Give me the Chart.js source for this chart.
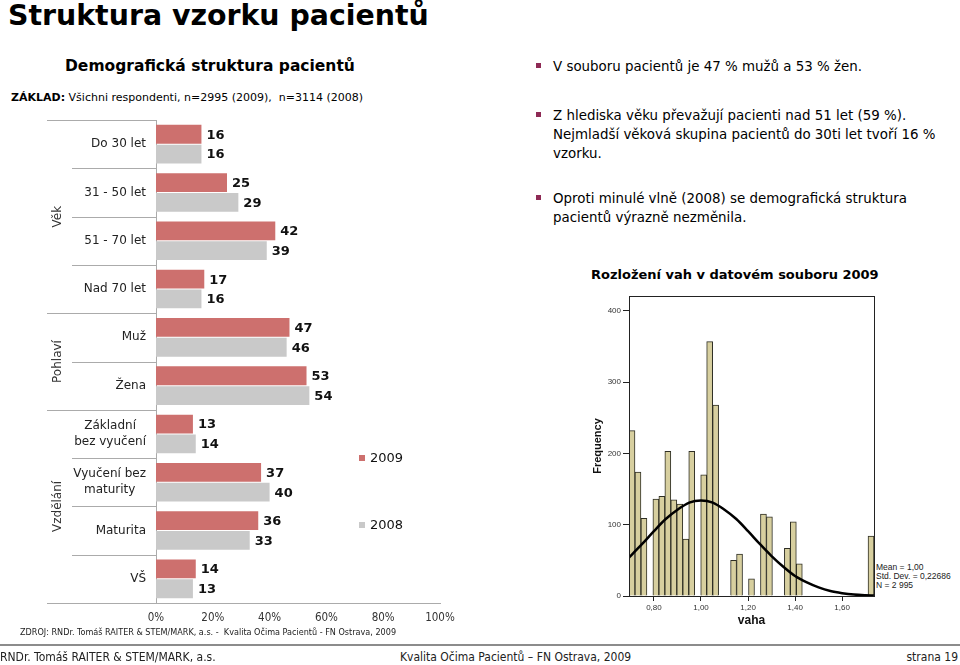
<!DOCTYPE html>
<html>
<head>
<meta charset="utf-8">
<script src="https://cdn.jsdelivr.net/npm/chart.js@4.4.1/dist/chart.umd.min.js"></script>
<style>
  body { margin:0; width:960px; height:665px; background:#fff; position:relative; overflow:hidden; font-family:"DejaVu Sans", sans-serif; color:#000; }
  .abs { position:absolute; white-space:nowrap; }
  #title { left:8px; top:2px; font-size:28.4px; font-weight:bold; line-height:28.4px; }
  #subtitle { left:65px; top:59px; font-size:15.5px; font-weight:bold; line-height:15.5px; }
  #zaklad { left:11px; top:92px; font-size:11px; line-height:11px; }
  #zdroj { left:20px; top:628px; font-size:9px; line-height:9px; font-family:"DejaVu Sans Condensed", "DejaVu Sans", sans-serif; color:#222; }
  .bullet { position:absolute; white-space:nowrap; left:553px; font-size:13.4px; line-height:19px; }
  .bullet::before { content:''; position:absolute; left:-17px; top:6px; width:5px; height:5px; background:#8e2a55; }
  #histTitle { left:591px; top:268px; font-size:13px; font-weight:bold; line-height:13px; }
  #stats { left:876px; top:563px; font-family:"Liberation Sans", Arial, sans-serif; font-size:8.5px; line-height:9px; color:#222; }
  #footLine { position:absolute; left:0; top:644px; width:960px; height:2px; background:#8c8c8c; }
  .foot { top:651px; font-size:12px; line-height:13px; font-family:"DejaVu Sans Condensed", "DejaVu Sans", sans-serif; color:#222; }
  #leftChart { position:absolute; left:0; top:110px; }
  #histChart { position:absolute; left:590px; top:286px; }
</style>
</head>
<body>
<div class="abs" id="title">Struktura vzorku pacientů</div>
<div class="abs" id="subtitle">Demografická struktura pacientů</div>
<div class="abs" id="zaklad"><b>ZÁKLAD:</b> Všichni respondenti, n=2995 (2009),&nbsp; n=3114 (2008)</div>

<div class="bullet" style="top:57px">V souboru pacientů je 47 % mužů a 53 % žen.</div>
<div class="bullet" style="top:106px">Z hlediska věku převažují pacienti nad 51 let (59 %).<br>Nejmladší věková skupina pacientů do 30ti let tvoří 16 %<br>vzorku.</div>
<div class="bullet" style="top:189px">Oproti minulé vlně (2008) se demografická struktura<br>pacientů výrazně nezměnila.</div>

<div class="abs" id="histTitle">Rozložení vah v datovém souboru 2009</div>
<div class="abs" id="stats">Mean = 1,00<br>Std. Dev. = 0,22686<br>N = 2 995</div>

<canvas id="leftChart" width="480" height="530"></canvas>
<canvas id="histChart" width="370" height="346"></canvas>

<div class="abs" id="zdroj">ZDROJ: RNDr. Tomáš RAITER &amp; STEM/MARK, a.s. -&nbsp; Kvalita Očima Pacientů - FN Ostrava, 2009</div>
<div id="footLine"></div>
<div class="abs foot" style="left:0">RNDr. Tomáš RAITER &amp; STEM/MARK, a.s.</div>
<div class="abs foot" style="left:400px">Kvalita Očima Pacientů – FN Ostrava, 2009</div>
<div class="abs foot" style="right:2px">strana 19</div>

<script>
// levy graf - demograficka struktura
const categories = ['Do 30 let', '31 - 50 let', '51 - 70 let', 'Nad 70 let', 'Muž', 'Žena',
    ['Základní', 'bez vyučení'], ['Vyučení bez', 'maturity'], 'Maturita', 'VŠ'];
const groupLabels = ['Věk', 'Pohlaví', 'Vzdělání'];
const groupSizes = [4, 2, 4];
const seriesNames = ['2009', '2008'];
const values2009 = [16, 25, 42, 17, 47, 53, 13, 37, 36, 14];
const values2008 = [16, 29, 39, 16, 46, 54, 14, 40, 33, 13];
const xTicks = [0, 20, 40, 60, 80, 100];

// histogram vah
const binCenters = [0.7067, 0.7321, 0.7575, 0.7829, 0.8083, 0.8337, 0.8591, 0.8845, 0.9099, 0.9353,
    0.9607, 0.9861, 1.0115, 1.0369, 1.0623, 1.0877, 1.1131, 1.1385, 1.1639, 1.1893,
    1.2147, 1.2401, 1.2655, 1.2909, 1.3163, 1.3417, 1.3671, 1.3925, 1.4179, 1.4433,
    1.4687, 1.4941, 1.5195, 1.5449, 1.5703, 1.5957, 1.6211, 1.6465, 1.6719, 1.6973, 1.7227];
const binCounts = [232, 174, 109, 0, 136, 140, 203, 135, 129, 80,
    203, 0, 170, 357, 268, 0, 0, 50, 59, 0,
    24, 0, 115, 111, 0, 0, 67, 104, 45, 0,
    0, 0, 0, 0, 0, 0, 0, 0, 0, 0, 84];
const curveX = [0.694, 0.70, 0.75, 0.80, 0.85, 0.90, 0.95, 1.00, 1.05, 1.10, 1.15, 1.20,
    1.25, 1.30, 1.35, 1.40, 1.45, 1.50, 1.55, 1.60, 1.65, 1.70, 1.735];
const curveY = [54, 56, 73, 91, 108, 121, 131, 134, 131, 121, 108, 91,
    73, 56, 41, 28, 19, 12, 7, 4, 2, 1, 0.6];
const histXTicks = [0.8, 1.0, 1.2, 1.4, 1.6];
const histYTicks = [0, 100, 200, 300, 400];

const RED = '#cd706e';
const GREY = '#c9c9c9';
const LINE = '#ababab';
const FONT = '"DejaVu Sans"';
const COND = '"DejaVu Sans Condensed", "DejaVu Sans"';

Chart.defaults.font.family = FONT;

const leftDecor = {
    id: 'leftDecor',
    afterDatasetsDraw(chart) {
        const ctx = chart.ctx;
        ctx.save();
        ctx.font = 'bold 13px ' + FONT;
        ctx.fillStyle = '#111';
        ctx.textBaseline = 'middle';
        ctx.textAlign = 'left';
        chart.data.datasets.forEach((ds, di) => {
            chart.getDatasetMeta(di).data.forEach((bar, i) => {
                ctx.fillText(ds.data[i], bar.x + 5, bar.y + 1);
            });
        });
        ctx.restore();
    },
    afterDraw(chart) {
        const { ctx, chartArea, scales: { y } } = chart;
        const band = y.getPixelForValue(1) - y.getPixelForValue(0);
        const edge = i => y.getPixelForValue(i) - band / 2;

        const starts = [];
        let n = 0;
        groupSizes.forEach(s => { starts.push(n); n += s; });

        ctx.save();
        ctx.strokeStyle = LINE;
        ctx.lineWidth = 1;
        for (let i = 0; i <= categories.length; i++) {
            const yy = Math.round(edge(i)) + 0.5;
            const isGroup = i === categories.length || starts.includes(i);
            ctx.beginPath();
            ctx.moveTo(chartArea.left - (isGroup ? 109 : 84), yy);
            ctx.lineTo(chartArea.left, yy);
            ctx.stroke();
        }

        // popisky kategorii
        ctx.font = '12px ' + FONT;
        ctx.fillStyle = '#222';
        ctx.textBaseline = 'middle';
        categories.forEach((c, i) => {
            const lines = Array.isArray(c) ? c : [c];
            const w = Math.max(...lines.map(l => ctx.measureText(l).width));
            const cx = chartArea.left - 10 - w / 2;
            const cy = y.getPixelForValue(i);
            ctx.textAlign = 'center';
            lines.forEach((l, k) => {
                ctx.fillText(l, cx, cy + (k - (lines.length - 1) / 2) * 16);
            });
        });

        // skupiny
        ctx.fillStyle = '#333';
        groupLabels.forEach((g, gi) => {
            const cy = (edge(starts[gi]) + edge(starts[gi] + groupSizes[gi])) / 2;
            ctx.save();
            ctx.translate(chartArea.left - 98, cy);
            ctx.rotate(-Math.PI / 2);
            ctx.textAlign = 'center';
            ctx.fillText(g, 0, 0);
            ctx.restore();
        });

        // legenda
        ctx.font = '13px ' + FONT;
        ctx.textAlign = 'left';
        const legY = [chartArea.top + 338, chartArea.top + 405];
        chart.data.datasets.forEach((ds, di) => {
            ctx.fillStyle = ds.backgroundColor;
            ctx.fillRect(chartArea.left + 203, legY[di] - 3, 6, 6);
            ctx.fillStyle = '#111';
            ctx.fillText(ds.label, chartArea.left + 214, legY[di] + 1);
        });
        ctx.restore();
    }
};

new Chart(document.getElementById('leftChart'), {
    type: 'bar',
    data: {
        labels: categories,
        datasets: [
            { label: seriesNames[0], data: values2009, backgroundColor: RED },
            { label: seriesNames[1], data: values2008, backgroundColor: GREY }
        ]
    },
    options: {
        indexAxis: 'y',
        responsive: false,
        animation: false,
        datasets: { bar: { categoryPercentage: 0.82, barPercentage: 0.95 } },
        layout: { padding: { left: 156, right: 40, top: 10, bottom: 7 } },
        plugins: { legend: { display: false }, tooltip: { enabled: false } },
        scales: {
            x: {
                min: 0, max: 100,
                afterBuildTicks: s => { s.ticks = xTicks.map(v => ({ value: v })); },
                afterFit: s => { s.height = 30; },
                grid: { display: false, drawTicks: false },
                border: { display: true, color: LINE },
                ticks: { padding: 8, color: '#333', maxRotation: 0, font: { family: COND, size: 11.5 }, callback: v => v + '%' }
            },
            y: {
                grid: { display: false, drawTicks: false },
                border: { display: true, color: LINE },
                ticks: { display: false },
                afterFit: s => { s.width = 0; }
            }
        }
    },
    plugins: [leftDecor]
});

const frame = {
    id: 'frame',
    afterDatasetsDraw(chart) {
        const { ctx, chartArea: a } = chart;
        ctx.save();
        ctx.strokeStyle = '#222';
        ctx.lineWidth = 1;
        ctx.strokeRect(Math.round(a.left) + 0.5, Math.round(a.top) + 0.5,
            Math.round(a.right - a.left), Math.round(a.bottom - a.top));
        ctx.restore();
    }
};

const ARIAL = '"Liberation Sans", Arial, sans-serif';

new Chart(document.getElementById('histChart'), {
    type: 'bar',
    data: {
        datasets: [
            {
                type: 'line', order: 0,
                data: curveX.map((v, i) => ({ x: v, y: curveY[i] })),
                borderColor: '#000', borderWidth: 2.5, pointRadius: 0,
                cubicInterpolationMode: 'monotone'
            },
            {
                type: 'bar', order: 1,
                data: binCenters.map((v, i) => ({ x: v, y: binCounts[i] })),
                backgroundColor: '#d7cf9f', borderColor: '#2e2e24', borderWidth: 1,
                barPercentage: 1, categoryPercentage: 1
            }
        ]
    },
    options: {
        responsive: false,
        animation: false,
        layout: { padding: { left: 0, right: 86, top: 10, bottom: 4 } },
        plugins: { legend: { display: false }, tooltip: { enabled: false } },
        scales: {
            x: {
                type: 'linear', offset: false, min: 0.694, max: 1.7354,
                afterBuildTicks: s => { s.ticks = histXTicks.map(v => ({ value: v })); },
                afterFit: s => { s.height = 32; },
                grid: { display: true, offset: false, drawOnChartArea: false, drawTicks: true, tickLength: 5, color: '#222' },
                border: { display: true, color: '#222' },
                ticks: { padding: 2, color: '#333', maxRotation: 0, font: { family: ARIAL, size: 8 },
                    callback: v => v.toFixed(2).replace('.', ',') },
                title: { display: true, text: 'vaha', color: '#111', padding: { top: 0, bottom: 0 },
                    font: { family: ARIAL, size: 12, weight: 'bold' } }
            },
            y: {
                min: 0, max: 421,
                afterBuildTicks: s => { s.ticks = histYTicks.map(v => ({ value: v })); },
                afterFit: s => { s.width = 39; },
                grid: { display: true, drawOnChartArea: false, drawTicks: true, tickLength: 6, color: '#222' },
                border: { display: true, color: '#222' },
                ticks: { padding: 2, color: '#333', font: { family: ARIAL, size: 8 } },
                title: { display: true, text: 'Frequency', color: '#111', padding: { top: 1, bottom: 0 },
                    font: { family: ARIAL, size: 11, weight: 'bold' } }
            }
        }
    },
    plugins: [frame]
});
</script>
</body>
</html>
